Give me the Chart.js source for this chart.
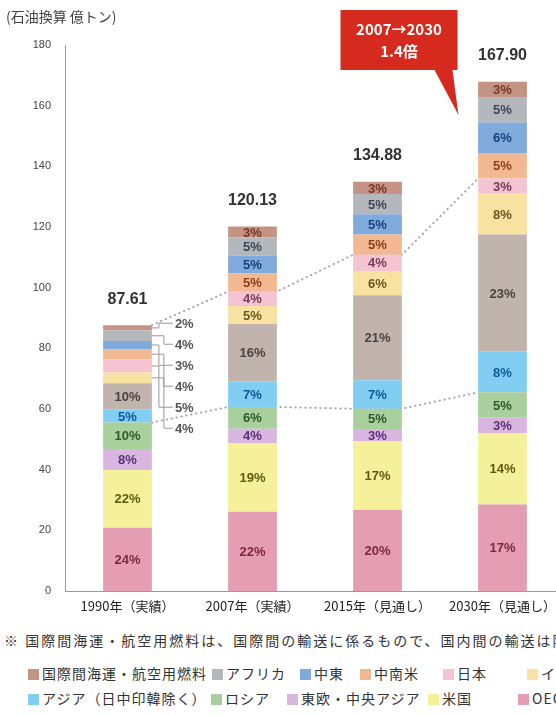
<!DOCTYPE html>
<html>
<head>
<meta charset="utf-8">
<title>世界のエネルギー需要の見通し</title>
<script src="https://cdn.jsdelivr.net/npm/chart.js@4.4.0/dist/chart.umd.min.js"></script>
<style>
  body{margin:0;width:556px;height:715px;overflow:hidden;background:#fff;position:relative;
       font-family:"Noto Sans CJK JP","Liberation Sans",sans-serif;color:#333;}
  #wrap{position:absolute;left:0;top:0;width:600px;height:625px;}
  #note{position:absolute;left:4px;top:630px;white-space:nowrap;font-size:14px;letter-spacing:2px;color:#333;}
  .item{position:absolute;white-space:nowrap;font-size:14px;letter-spacing:1px;color:#333;}
  .sw{display:inline-block;width:11px;height:11px;margin-right:3px;vertical-align:-1px;}
</style>
</head>
<body>
<div id="wrap"><canvas id="c" width="600" height="625"></canvas></div>
<div id="note">※ 国際間海運・航空用燃料は、国際間の輸送に係るもので、国内間の輸送は除く。</div>
<div id="legend"></div>
<script>
// categories and totals (石油換算 億トン)
var years = ['1990年（実績）', '2007年（実績）', '2015年（見通し）', '2030年（見通し）'];
var totals = [87.61, 120.13, 134.88, 167.90];
var yTicks = [0, 20, 40, 60, 80, 100, 120, 140, 160, 180];

// shares in % per region, bottom of the stack first
var oecdEurope = [24, 22, 20, 17];
var usa        = [22, 19, 17, 14];
var eastEurope = [8, 4, 3, 3];
var russia     = [10, 6, 5, 5];
var asiaOther  = [5, 7, 7, 8];
var china      = [10, 16, 21, 23];
var india      = [4, 5, 6, 8];
var japan      = [5, 4, 4, 3];
var latam      = [4, 5, 5, 5];
var midEast    = [3, 5, 5, 6];
var africa     = [4, 5, 5, 5];
var bunker     = [2, 3, 3, 3];

var names = ['OECD欧州', '米国', '東欧・中央アジア', 'ロシア', 'アジア（日中印韓除く）', '中国',
             'インド', '日本', '中南米', '中東', 'アフリカ', '国際間海運・航空用燃料'];
var shares = [oecdEurope, usa, eastEurope, russia, asiaOther, china, india, japan, latam, midEast, africa, bunker];
var fills = ['#e49db2', '#f5f09a', '#d8b6e0', '#a9cf9c', '#82cdf2', '#c1b4ac',
             '#f8e2a2', '#f4c4d3', '#f1b891', '#80a9dc', '#b4b7bb', '#c39384'];
var inks  = ['#7b2840', '#5e5a12', '#5e2f78', '#2d5a2d', '#0d5a98', '#4a4242',
             '#6a5620', '#7a3a55', '#8a4018', '#16407e', '#3d4656', '#7a3525'];

// scale shares so each stack reaches its total
var sums = totals.map(function(t, i){
  var s = 0; shares.forEach(function(a){ s += a[i]; }); return s;
});
var values = shares.map(function(a){
  return a.map(function(p, i){ return totals[i] * p / sums[i]; });
});

var FONT = '"Liberation Sans","Noto Sans CJK JP",sans-serif';
var JP = '"Noto Sans CJK JP",sans-serif';

function topOf(s, i){ var v = 0; for (var k = 0; k <= s; k++) v += values[k][i]; return v; }

var deco = {
  id: 'deco',
  beforeDatasetsDraw: function(chart){
    var ctx = chart.ctx, y = chart.scales.y;
    var bars = chart.getDatasetMeta(0).data;
    ctx.save();
    ctx.strokeStyle = '#a9a9a9'; ctx.lineWidth = 2; ctx.lineCap = 'round';
    ctx.setLineDash([0.5, 4.5]);
    // upper: from 1990 top to Japan tops, lower: Russia tops
    [[11, 7], [3, 3]].forEach(function(p){
      ctx.beginPath();
      ctx.moveTo(bars[0].x + bars[0].width / 2, y.getPixelForValue(topOf(p[0], 0)));
      for (var i = 1; i < 4; i++){
        var py = y.getPixelForValue(topOf(p[1], i));
        ctx.lineTo(bars[i].x - bars[i].width / 2, py);
        if (i < 3) ctx.lineTo(bars[i].x + bars[i].width / 2, py);
      }
      ctx.stroke();
    });
    ctx.restore();
  },
  afterDatasetsDraw: function(chart){
    var ctx = chart.ctx, y = chart.scales.y;
    ctx.save();
    ctx.textAlign = 'center'; ctx.textBaseline = 'middle';
    ctx.font = 'bold 13px ' + FONT;
    chart.data.datasets.forEach(function(ds, s){
      chart.getDatasetMeta(s).data.forEach(function(bar, i){
        if (i === 0 && s >= 6) return;
        ctx.fillStyle = inks[s];
        ctx.fillText(shares[s][i] + '%', bar.x, (bar.y + bar.base) / 2 + 1);
      });
    });
    // 1990: small shares written outside with leader lines
    var b0 = chart.getDatasetMeta(0).data[0];
    var right = b0.x + b0.width / 2;
    var ly0 = y.getPixelForValue(totals[0]) - 2;
    ctx.textAlign = 'left';
    ctx.strokeStyle = '#999'; ctx.lineWidth = 1;
    for (var s = 11; s >= 6; s--){
      var k = 11 - s;
      var seg = chart.getDatasetMeta(s).data[0];
      var cy = (seg.y + seg.base) / 2;
      var ly = ly0 + k * 21;
      var ex = right + 7 + (k % 2) * 5;
      ctx.beginPath();
      ctx.moveTo(right, cy); ctx.lineTo(ex, cy); ctx.lineTo(ex, ly); ctx.lineTo(right + 21, ly);
      ctx.stroke();
      ctx.fillStyle = '#555';
      ctx.fillText(shares[s][0] + '%', right + 23, ly + 1);
    }
    // totals above bars
    ctx.textAlign = 'center';
    ctx.font = 'bold 16px ' + FONT;
    ctx.fillStyle = '#333';
    chart.getDatasetMeta(0).data.forEach(function(bar, i){
      ctx.fillText(totals[i].toFixed(2), bar.x, y.getPixelForValue(totals[i]) - 26);
    });
    // unit
    ctx.textAlign = 'left';
    ctx.font = '14px ' + JP;
    ctx.fillStyle = '#444';
    ctx.fillText('(石油換算 億トン)', 6, 17);
    // callout
    var b3 = chart.getDatasetMeta(0).data[3];
    var bx = b3.x - 162, bw = 117, by = 10, bh = 60;
    ctx.fillStyle = '#d62a1f';
    ctx.fillRect(bx, by, bw, bh);
    ctx.beginPath();
    ctx.moveTo(b3.x - 68, by + bh); ctx.lineTo(b3.x - 50, by + bh); ctx.lineTo(b3.x - 44, 115);
    ctx.closePath(); ctx.fill();
    ctx.fillStyle = '#fff';
    ctx.textAlign = 'center';
    ctx.font = 'bold 15px ' + JP;
    ctx.fillText('2007→2030', bx + bw / 2, by + 19);
    ctx.fillText('1.4倍', bx + bw / 2, by + 41);
    ctx.restore();
  }
};

var datasets = names.map(function(n, s){
  return { label: n, data: values[s], backgroundColor: fills[s], borderWidth: 0,
           barPercentage: 0.39, categoryPercentage: 1 };
});

new Chart(document.getElementById('c').getContext('2d'), {
  type: 'bar',
  data: { labels: years, datasets: datasets },
  options: {
    responsive: false,
    animation: false,
    layout: { padding: { top: 45, left: 0, right: 35, bottom: 0 } },
    plugins: { legend: { display: false }, tooltip: { enabled: false } },
    scales: {
      x: {
        stacked: true,
        grid: { display: false, drawTicks: false },
        border: { display: true, color: '#999', width: 1 },
        ticks: { color: '#222', font: { size: 13, family: JP }, padding: 7, maxRotation: 0 },
        afterFit: function(sc){ sc.height = 34; }
      },
      y: {
        stacked: true, min: 0, max: 180,
        afterBuildTicks: function(sc){ sc.ticks = yTicks.map(function(v){ return { value: v }; }); },
        grid: { display: false, drawTicks: false },
        border: { display: true, color: '#999', width: 1 },
        ticks: { color: '#444', font: { size: 11, family: FONT }, padding: 14 },
        afterFit: function(sc){ sc.width = 65; }
      }
    }
  },
  plugins: [deco]
});

// legend, reversed stack order, clipped at the right like the original
var rows = [
  { top: 663, idx: [11, 10, 9, 8, 7, 6, 5], left: [28, 212, 300, 360, 443, 527, 600] },
  { top: 688, idx: [4, 3, 2, 1, 0], left: [28, 211, 287, 428, 518] }
];
var lg = document.getElementById('legend');
rows.forEach(function(r){
  r.idx.forEach(function(s, j){
    var d = document.createElement('div');
    d.className = 'item';
    d.style.left = r.left[j] + 'px';
    d.style.top = r.top + 'px';
    d.innerHTML = '<span class="sw" style="background:' + fills[s] + '"></span>' + names[s];
    lg.appendChild(d);
  });
});
</script>
</body>
</html>
